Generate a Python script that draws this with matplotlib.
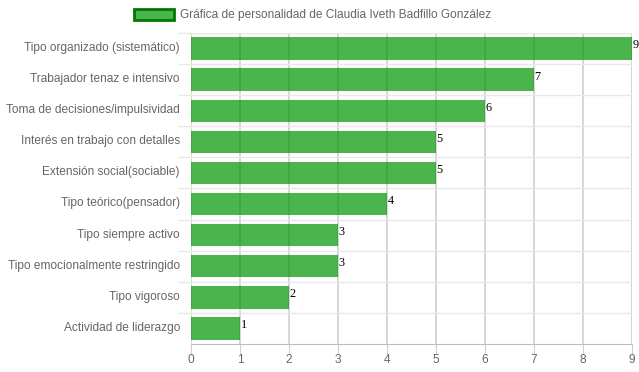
import matplotlib.pyplot as plt
import matplotlib.transforms as mtransforms
from matplotlib.patches import Patch

categorias = [
    "Tipo organizado (sistemático)",
    "Trabajador tenaz e intensivo",
    "Toma de decisiones/impulsividad",
    "Interés en trabajo con detalles",
    "Extensión social(sociable)",
    "Tipo teórico(pensador)",
    "Tipo siempre activo",
    "Tipo emocionalmente restringido",
    "Tipo vigoroso",
    "Actividad de liderazgo",
]
valores = [9, 7, 6, 5, 5, 4, 3, 3, 2, 1]
titulo = "Gráfica de personalidad de Claudia Iveth Badfillo González"

plt.rcParams['font.family'] = ['Liberation Sans', 'DejaVu Sans']

fig = plt.figure(figsize=(6.39, 3.72), dpi=100)
ax = fig.add_axes([191/639, 1 - 344/372, 441/639, 311/372])

pos = list(range(len(categorias)))
color_barra = (0, 0.585, 0, 0.7)
ax.barh(pos, valores, height=0.72, color=color_barra, zorder=2)

for p, v in zip(pos, valores):
    ax.text(v + 0.01, p - 0.1, str(v), va='center', ha='left', fontsize=8.8,
            family=['Liberation Serif', 'DejaVu Serif'], color='black', zorder=3)

ax.set_xlim(0, 9)
ax.set_ylim(len(categorias) - 0.5, -0.5)
ax.set_xticks(range(10))
ax.set_yticks(pos)
ax.set_yticklabels(categorias)

# rejilla
for x in range(10):
    ax.axvline(x, color='#cfcfcf', lw=1.2, zorder=1)
for i in range(len(categorias)):
    ax.axhline(i - 0.5, color='#e8e8e8', lw=1.0, zorder=1)
    # marcas a la izquierda como en Chart.js
    ax.plot([-0.25, 0], [i - 0.5, i - 0.5], color='#e8e8e8', lw=1.0,
            clip_on=False, zorder=1)

for s in ['top', 'right', 'left']:
    ax.spines[s].set_visible(False)
ax.spines['bottom'].set_color('#bbbbbb')

ax.tick_params(axis='x', length=7, color='#cfcfcf', labelsize=8.6, labelcolor='#666666', pad=0)
ax.tick_params(axis='y', length=0, labelsize=8.6, labelcolor='#666666', pad=8)
subir = mtransforms.ScaledTranslation(0, 1.5/72, fig.dpi_scale_trans)
for lbl in ax.get_yticklabels():
    lbl.set_transform(lbl.get_transform() + subir)

handle = Patch(facecolor=color_barra, edgecolor='#007a00', linewidth=2)
fig.legend([handle], [titulo], loc='center', bbox_to_anchor=(0.5 - 7/639, 1 - 15/372),
           frameon=False, fontsize=8.6, labelcolor='#666666',
           handlelength=3.4, handleheight=1.1, handletextpad=0.5)

fig.savefig("out.png", dpi=100)
